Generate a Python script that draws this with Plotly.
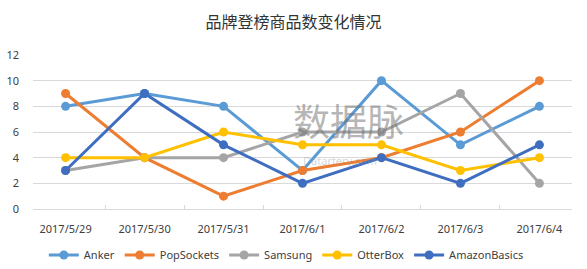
import plotly.graph_objects as go

dates = ["2017/5/29", "2017/5/30", "2017/5/31", "2017/6/1", "2017/6/2", "2017/6/3", "2017/6/4"]
anker = [8, 9, 8, 3, 10, 5, 8]
popsockets = [9, 4, 1, 3, 4, 6, 10]
samsung = [3, 4, 4, 6, 6, 9, 2]
otterbox = [4, 4, 6, 5, 5, 3, 4]
amazonbasics = [3, 9, 5, 2, 4, 2, 5]

series = [
    ("Anker", anker, "#5B9BD5"),
    ("PopSockets", popsockets, "#ED7D31"),
    ("Samsung", samsung, "#A5A5A5"),
    ("OtterBox", otterbox, "#FFC000"),
    ("AmazonBasics", amazonbasics, "#3F6EC0"),
]

fig = go.Figure()
for name, vals, color in series:
    fig.add_trace(go.Scatter(
        x=dates, y=vals, name=name, mode="lines+markers",
        line=dict(color=color, width=3),
        marker=dict(color=color, size=9),
    ))

fig.add_annotation(text="数据脉", xref="paper", yref="paper",
                   x=(348 - 33) / 539, y=(209 - 120) / 154, yanchor="middle",
                   showarrow=False, font=dict(size=37, color="rgba(110,110,110,0.5)",
                                              family="Noto Sans CJK SC"))
fig.add_annotation(text="Datartery.com", x=(340 - 33) / 539, y=(209 - 160) / 154,
                   xref="paper", yref="paper", yanchor="middle",
                   showarrow=False, font=dict(size=11, color="rgba(140,150,160,0.4)",
                                              family="Noto Sans"))

fig.update_layout(
    width=587, height=269,
    margin=dict(l=33, r=15, t=55, b=60, autoexpand=False),
    paper_bgcolor="white", plot_bgcolor="white",
    title=dict(text="品牌登榜商品数变化情况", x=0.5, xanchor="center", y=0.915, yanchor="middle",
               font=dict(size=16, color="#333333", family="Noto Sans CJK SC")),
    font=dict(family="Noto Sans, Liberation Sans", size=11, color="#404040"),
    showlegend=True,
    legend=dict(orientation="h", x=0.47, xanchor="center", yref="container", y=0.052, yanchor="middle",
                font=dict(size=11, color="#404040"), itemwidth=30, tracegroupgap=0),
    xaxis=dict(type="category", showgrid=False, showline=True, linecolor="#D9D9D9",
               ticks="inside", tickson="boundaries", ticklen=4, tickcolor="#D9D9D9",
               ticklabelstandoff=10,
               tickfont=dict(size=11, color="#404040")),
    yaxis=dict(range=[0, 12], dtick=2, showgrid=True, gridcolor="#D9D9D9", gridwidth=1,
               zeroline=False, showline=False, ticks="", tickfont=dict(size=11, color="#404040"),
               ticklabelstandoff=13),
)

fig.write_html("out.html")
